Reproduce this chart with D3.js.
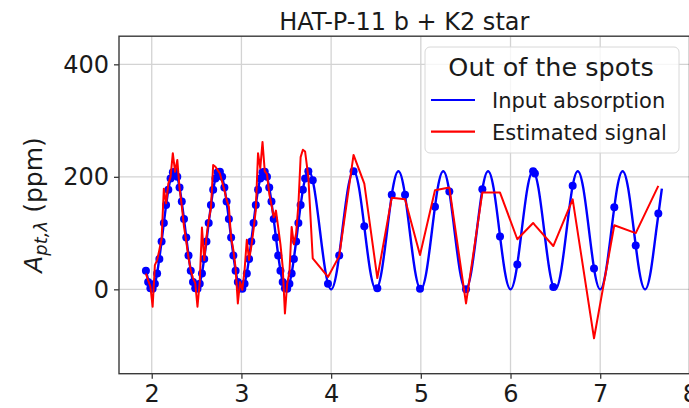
<!DOCTYPE html>
<html>
<head>
<meta charset="utf-8">
<script src="https://cdn.jsdelivr.net/npm/d3@7"></script>
<style>
  html, body { margin: 0; padding: 0; background: #fff; }
  svg { display: block; }
  text { font-family: "DejaVu Sans", sans-serif; fill: #1a1a1a; }
</style>
</head>
<body>
<svg id="chart" width="689" height="408"></svg>
<script>
// Input absorption model curve (wavelength, ppm)
const curveX = [1.93,
  2.0, 2.0625, 2.125, 2.1875, 2.25, 2.3125, 2.375, 2.4375,
  2.5, 2.5625, 2.625, 2.6875, 2.75, 2.8125, 2.875, 2.9375,
  3.0, 3.0625, 3.125, 3.1875, 3.25, 3.3125, 3.375, 3.4375,
  3.5, 3.5625, 3.625, 3.6875, 3.75, 3.8125, 3.875, 3.9375,
  4.0, 4.0625, 4.125, 4.1875, 4.25, 4.3125, 4.375, 4.4375,
  4.5, 4.5625, 4.625, 4.6875, 4.75, 4.8125, 4.875, 4.9375,
  5.0, 5.0625, 5.125, 5.1875, 5.25, 5.3125, 5.375, 5.4375,
  5.5, 5.5625, 5.625, 5.6875, 5.75, 5.8125, 5.875, 5.9375,
  6.0, 6.0625, 6.125, 6.1875, 6.25, 6.3125, 6.375, 6.4375,
  6.5, 6.5625, 6.625, 6.6875, 6.75, 6.8125, 6.875, 6.9375,
  7.0, 7.0625, 7.125, 7.1875, 7.25, 7.3125, 7.375, 7.4375,
  7.5, 7.5625, 7.625, 7.6875];
const curveY = [38,
  0, 31, 105, 179, 210, 179, 105, 31,
  0, 31, 105, 179, 210, 179, 105, 31,
  0, 31, 105, 179, 210, 179, 105, 31,
  0, 31, 105, 179, 210, 179, 105, 31,
  0, 31, 105, 179, 210, 179, 105, 31,
  0, 31, 105, 179, 210, 179, 105, 31,
  0, 31, 105, 179, 210, 179, 105, 31,
  0, 31, 105, 179, 210, 179, 105, 31,
  0, 31, 105, 179, 210, 179, 105, 31,
  0, 31, 105, 179, 210, 179, 105, 31,
  0, 31, 105, 179, 210, 179, 105, 31,
  0, 31, 105, 179];

// Observed wavelengths
const sampleX = [
  1.935, 1.96, 1.985, 2.01, 2.035, 2.06, 2.085, 2.11, 2.135, 2.16,
  2.185, 2.21, 2.235, 2.26, 2.285, 2.31, 2.335, 2.36, 2.385, 2.41,
  2.435, 2.46, 2.485, 2.51, 2.535, 2.56, 2.585, 2.61, 2.635, 2.66,
  2.685, 2.71, 2.735, 2.76, 2.785, 2.81, 2.835, 2.86, 2.885, 2.91,
  2.935, 2.96, 2.985, 3.01, 3.035, 3.06, 3.085, 3.11, 3.135, 3.16,
  3.185, 3.21, 3.235, 3.26, 3.285, 3.31, 3.335, 3.36, 3.385, 3.41,
  3.435, 3.46, 3.485, 3.51, 3.535, 3.56, 3.585, 3.61, 3.635, 3.66,
  3.685, 3.71,
  3.746, 3.795, 3.965, 4.09, 4.25, 4.37, 4.515, 4.676, 4.824, 4.991,
  5.158, 5.318, 5.504, 5.686, 5.883, 6.076, 6.252, 6.272, 6.477, 6.693,
  6.931, 7.157, 7.396, 7.648];

// Input absorption at the observed wavelengths
const inputAtSamples = [
  33, 13, 2, 1, 10, 28, 54, 85, 118, 150,
  177, 197, 208, 209, 200, 181, 156, 125, 92, 60,
  33, 13, 2, 1, 10, 28, 54, 85, 118, 150,
  177, 197, 208, 209, 200, 181, 156, 125, 92, 60,
  33, 13, 2, 1, 10, 28, 54, 85, 118, 150,
  177, 197, 208, 209, 200, 181, 156, 125, 92, 60,
  33, 13, 2, 1, 10, 28, 54, 85, 118, 150,
  177, 197,
  210, 194, 10, 60, 210, 112, 2, 168, 168, 1,
  147, 174, 0, 178, 94, 44, 210, 206, 4, 184,
  37, 146, 78, 135];

// Estimated signal at the observed wavelengths
const estimated = [
  28, 16, 5, -31, 43, 52, 70, 90, 179, 153,
  188, 200, 242, 209, 230, 180, 148, 111, 85, 56,
  34, 20, 11, -31, 13, 110, 52, 93, 123, 144,
  221, 218, 212, 206, 191, 176, 159, 147, 91, 70,
  38, -25, 13, -1, 34, 88, 52, 76, 106, 141,
  242, 215, 262, 210, 205, 170, 150, 128, 140, 110,
  80, 40, -43, 10, 30, 111, 80, 100, 150, 235,
  248, 245,
  200, 55, 22, 59, 239, 188, 20, 163, 160, 61,
  176, 181, -25, 172, 172, 89, 118, 114, 77, 160,
  -87, 114, 100, 184];

const xTicks = [2, 3, 4, 5, 6, 7, 8];
const yTicks = [0, 200, 400];

const titleText = "HAT-P-11 b + K2 star";
const legendTitle = "Out of the spots";
const seriesNames = ["Input absorption", "Estimated signal"];
const seriesColors = ["#0000ff", "#ff0000"];

const svg = d3.select("#chart");
const L = 119, R = 689.5, T = 36.2, B = 373.7;

const x = d3.scaleLinear().domain([1.635, 7.99]).range([L, 689]);
const y = d3.scaleLinear().domain([-150, 450]).range([B, T]);

// grid
const grid = svg.append("g");
grid.selectAll(".gx").data(xTicks).join("line")
  .attr("x1", d => x(d)).attr("x2", d => x(d))
  .attr("y1", T).attr("y2", B)
  .attr("stroke", "#d3d3d3").attr("stroke-width", 1.3);
grid.selectAll(".gy").data(yTicks).join("line")
  .attr("x1", L).attr("x2", R)
  .attr("y1", d => y(d)).attr("y2", d => y(d))
  .attr("stroke", "#d3d3d3").attr("stroke-width", 1.3);

const clip = svg.append("clipPath").attr("id", "plotclip")
  .append("rect").attr("x", L).attr("y", T).attr("width", R - L).attr("height", B - T);

const plot = svg.append("g").attr("clip-path", "url(#plotclip)");

const curvePts = curveX.map((v, i) => [v, curveY[i]]);
plot.append("path")
  .datum(curvePts)
  .attr("fill", "none")
  .attr("stroke", seriesColors[0])
  .attr("stroke-width", 2.4)
  .attr("d", d3.line().x(d => x(d[0])).y(d => y(d[1])).curve(d3.curveNatural));

plot.selectAll("circle.obs").data(sampleX.map((v, i) => [v, inputAtSamples[i]]))
  .join("circle")
  .attr("class", "obs")
  .attr("cx", d => x(d[0])).attr("cy", d => y(d[1]))
  .attr("r", 4).attr("fill", seriesColors[0]);

plot.append("path")
  .datum(sampleX.map((v, i) => [v, estimated[i]]))
  .attr("fill", "none")
  .attr("stroke", seriesColors[1])
  .attr("stroke-width", 2)
  .attr("stroke-linejoin", "round")
  .attr("d", d3.line().x(d => x(d[0])).y(d => y(d[1])));

// spines
svg.append("rect")
  .attr("x", L).attr("y", T).attr("width", R - L).attr("height", B - T)
  .attr("fill", "none").attr("stroke", "#3a3a3a").attr("stroke-width", 1.4);

// axes
const xAxis = svg.append("g").attr("transform", `translate(0,${B})`)
  .call(d3.axisBottom(x).tickValues(xTicks).tickFormat(d3.format("d")).tickSize(5).tickPadding(6));
const yAxis = svg.append("g").attr("transform", `translate(${L},0)`)
  .call(d3.axisLeft(y).tickValues(yTicks).tickFormat(d3.format("d")).tickSize(5).tickPadding(5));
[xAxis, yAxis].forEach(a => {
  a.select(".domain").remove();
  a.selectAll(".tick line").attr("stroke", "#3a3a3a").attr("stroke-width", 1.3);
  a.selectAll(".tick text").attr("font-size", 24).attr("fill", "#1a1a1a")
    .attr("font-family", "DejaVu Sans, sans-serif");
});

// title
svg.append("text")
  .attr("x", (L + R) / 2).attr("y", 29.5)
  .attr("text-anchor", "middle").attr("font-size", 24)
  .text(titleText);

// y label
const yl = svg.append("text")
  .attr("transform", "translate(42,205) rotate(-90)")
  .attr("text-anchor", "middle").attr("font-size", 25);
yl.append("tspan").attr("font-style", "italic").text("A");
yl.append("tspan").attr("font-style", "italic").attr("font-size", 18).attr("dy", 5).text("pt,λ");
yl.append("tspan").attr("dy", -5).text(" (ppm)");

// legend
const lg = svg.append("g");
lg.append("rect")
  .attr("x", 425).attr("y", 47).attr("width", 254).attr("height", 106).attr("rx", 5)
  .attr("fill", "#ffffff").attr("fill-opacity", 0.8)
  .attr("stroke", "#d8d8d8").attr("stroke-width", 1);
lg.append("text")
  .attr("x", 551).attr("y", 75.5).attr("text-anchor", "middle").attr("font-size", 25.5)
  .text(legendTitle);
seriesNames.forEach((name, i) => {
  const cy = 100 + i * 31.7;
  lg.append("line")
    .attr("x1", 431).attr("x2", 475).attr("y1", cy).attr("y2", cy)
    .attr("stroke", seriesColors[i]).attr("stroke-width", 2.2);
  lg.append("text")
    .attr("x", 492).attr("y", cy + 8).attr("font-size", 21)
    .text(name);
});
</script>
</body>
</html>
